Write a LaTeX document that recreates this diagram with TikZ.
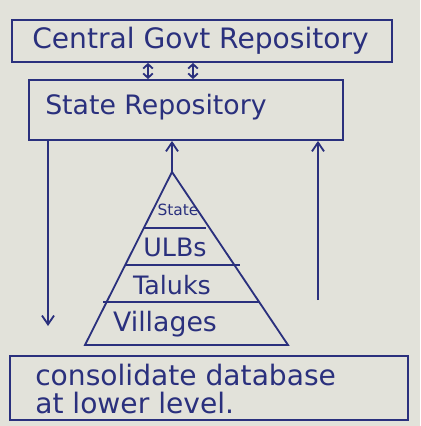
\documentclass[tikz,border=0pt]{standalone}
\usepackage{fontspec}
\setmainfont{DejaVu Sans}
\usetikzlibrary{arrows.meta,calc}
\definecolor{ink}{RGB}{42,48,125}
\definecolor{paper}{RGB}{226,226,218}
\tikzset{
  box/.style={draw=ink, line width=1.3pt, rectangle, inner sep=0pt},
  lbl/.style={text=ink, inner sep=0pt},
  link/.style={draw=ink, line width=1.3pt, -{Straight Barb[length=2.2mm,width=3mm]}},
  dlink/.style={draw=ink, line width=1.3pt, {Straight Barb[length=1.1mm,width=2.4mm]}-{Straight Barb[length=1.1mm,width=2.4mm]}},
}
\begin{document}
\begin{tikzpicture}[x=0.025cm,y=-0.025cm]
\fill[paper] (0,0) rectangle (420,426);
\useasboundingbox (0,0) rectangle (420,426);
% boxes
\node[box, minimum width=9.5cm, minimum height=1.05cm] (central) at (202,41) {};
\node[box, minimum width=7.83cm, minimum height=1.5cm] (state) at (186,110) {};
\node[box, minimum width=9.95cm, minimum height=1.6cm] (base) at (209,388) {};
% box texts
\node[lbl, anchor=west, font=\fontsize{20}{24}\selectfont] (centralt) at (32,41) {Central Govt Repository};
\node[lbl, anchor=west, font=\fontsize{19}{22}\selectfont] (statet) at (45,107) {State Repository};
\node[lbl, anchor=west, align=left, font=\fontsize{20}{20}\selectfont] (baset) at (35,389) {consolidate database\\at lower level.};
% pyramid
\coordinate (apex) at (172,172);
\coordinate (bl) at (85,345);
\coordinate (br) at (288,345);
\draw[ink, line width=1.3pt] (apex) -- (bl) -- (br) -- cycle;
\draw[ink, line width=1.3pt] (143,228) -- (206,228);
\draw[ink, line width=1.3pt] (125,265) -- (240,265);
\draw[ink, line width=1.3pt] (103,302) -- (260,302);
\node[lbl, font=\fontsize{11}{13}\selectfont] (pstate) at (178,210) {State};
\node[lbl, font=\fontsize{18}{20}\selectfont] (pulb) at (175,247) {ULBs};
\node[lbl, font=\fontsize{18}{20}\selectfont] (ptal) at (172,285) {Taluks};
\node[lbl, font=\fontsize{19}{21}\selectfont] (pvil) at (165,324) {Villages};
% connectors
\coordinate (da) at (148,0);
\coordinate (db) at (193,0);
\draw[dlink] (central.south -| da) -- (state.north -| da);
\draw[dlink] (central.south -| db) -- (state.north -| db);
\draw[link] (apex) -- (state.south -| apex);
\coordinate (rstart) at (318,300);
\draw[link] (rstart) -- (state.south -| rstart);
\coordinate (lend) at (48,326);
\draw[link] (state.south -| lend) -- (lend);
\end{tikzpicture}
\end{document}
